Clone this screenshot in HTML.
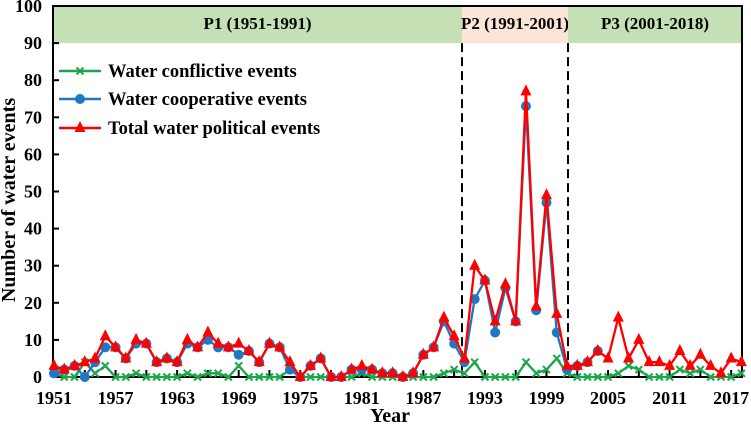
<!DOCTYPE html>
<html><head><meta charset="utf-8"><style>
body{margin:0;background:#fff}
svg text{font-family:"Liberation Serif",serif;font-weight:bold}
</style></head><body>
<svg id="c" width="751" height="424" xmlns="http://www.w3.org/2000/svg"></svg>
<script>
const years=[];for(let y=1951;y<=2018;y++)years.push(y);
const conflictive=[1,0,0,4,1,3,0,0,1,0,0,0,0,1,0,1,1,0,3,0,0,0,0,2,0,0,0,0,0,0,1,0,0,0,0,0,0,0,1,2,1,4,0,0,0,0,4,1,2,5,1,0,0,0,0,1,3,2,0,0,0,2,1,2,0,0,0,1];
const cooperative=[1,2,3,0,4,8,8,5,9,9,4,5,4,9,8,10,8,8,6,7,4,9,8,2,0,3,5,0,0,2,2,2,1,1,0,1,6,8,15,9,4,21,26,12,24,15,73,18,47,12,2,3,4,7];
const total=[3,2,3,4,5,11,8,5,10,9,4,5,4,10,8,12,9,8,9,7,4,9,8,4,0,3,5,0,0,2,3,2,1,1,0,1,6,8,16,11,5,30,26,15,25,15,77,19,49,17,3,3,4,7,5,16,5,10,4,4,3,7,3,6,3,1,5,4];
const yTicks=[0,10,20,30,40,50,60,70,80,90,100];
const xTickYears=[1951,1957,1963,1969,1975,1981,1987,1993,1999,2005,2011,2017];
const periods=[{t:"P1 (1951-1991)",x0:53,x1:462,c:"#c5e0b4"},{t:"P2 (1991-2001)",x0:462,x1:568,c:"#fbe5d6"},{t:"P3 (2001-2018)",x0:568,x1:742,c:"#c5e0b4"}];
const L=53,R=742,T=6,B=377;
const X=y=>54+(y-1951)*10.26;
const Y=v=>B-(v/100)*(B-T);
const s=document.getElementById('c');const NS="http://www.w3.org/2000/svg";
function mk(tag,a,p){const e=document.createElementNS(NS,tag);for(const k in a)e.setAttribute(k,a[k]);(p||s).appendChild(e);return e;}
periods.forEach(p=>{const r=mk('rect',{x:p.x0,y:T+1,width:p.x1-p.x0,height:Y(90)-T-1,fill:p.c});


const t=mk('text',{x:(p.x0+p.x1)/2,y:29,'text-anchor':'middle','font-size':17});t.textContent=p.t;

});
[462,568].forEach(x=>{const l=mk('line',{x1:x,x2:x,y1:Y(90),y2:B,stroke:'#000','stroke-width':2,'stroke-dasharray':'9,5'});

});
const fr=mk('rect',{x:L,y:T,width:R-L,height:B-T,fill:'none',stroke:'#000','stroke-width':2});


yTicks.forEach(v=>{mk('line',{x1:L,x2:L+6,y1:Y(v),y2:Y(v),stroke:'#000','stroke-width':2});
const t=mk('text',{x:42,y:Y(v)+6,'text-anchor':'end','font-size':18});t.textContent=v;

});
for(let y=1951;y<=2017;y+=3){mk('line',{x1:X(y),x2:X(y),y1:B,y2:B-7,stroke:'#000','stroke-width':2});}
xTickYears.forEach(y=>{const t=mk('text',{x:X(y),y:404,'text-anchor':'middle','font-size':18});t.textContent=y;

});
const xt=mk('text',{x:390,y:422,'text-anchor':'middle','font-size':20});xt.textContent='Year';


const yt=mk('text',{x:0,y:0,'text-anchor':'middle','font-size':20,transform:'translate(15,200) rotate(-90)'});yt.textContent='Number of water events';


function marker(type,x,y,c,g){if(type==='x'){mk('path',{d:`M${x-3.5},${y-3.5}L${x+3.5},${y+3.5}M${x-3.5},${y+3.5}L${x+3.5},${y-3.5}`,stroke:c,'stroke-width':2},g);}
else if(type==='o'){mk('circle',{cx:x,cy:y,r:5,fill:c},g);}
else{mk('path',{d:`M${x},${y-7}L${x+5.5},${y+4}L${x-5.5},${y+4}Z`,fill:c},g);}}
const series=[{d:conflictive,c:'#1aa64a',m:'x',n:'conflictive-series'},{d:cooperative,c:'#2277c4',m:'o',n:'cooperative-series'},{d:total,c:'#ff0000',m:'t',n:'total-series'}];
series.forEach(se=>{const g=mk('g',{});

mk('polyline',{points:se.d.map((v,i)=>X(years[i])+','+Y(v)).join(' '),fill:'none',stroke:se.c,'stroke-width':2.3},g);
se.d.forEach((v,i)=>marker(se.m,X(years[i]),Y(v),se.c,g));});
const leg=[['Water conflictive events','#1aa64a','x',71],['Water cooperative events','#2277c4','o',99],['Total water political events','#ff0000','t',128]];
leg.forEach(l=>{const g=mk('g',{});

mk('line',{x1:59,x2:101,y1:l[3],y2:l[3],stroke:l[1],'stroke-width':2.5},g);marker(l[2],80,l[3],l[1],g);
const t=mk('text',{x:108,y:l[3]+6,'font-size':18.5},g);t.textContent=l[0];});
</script>
</body></html>
